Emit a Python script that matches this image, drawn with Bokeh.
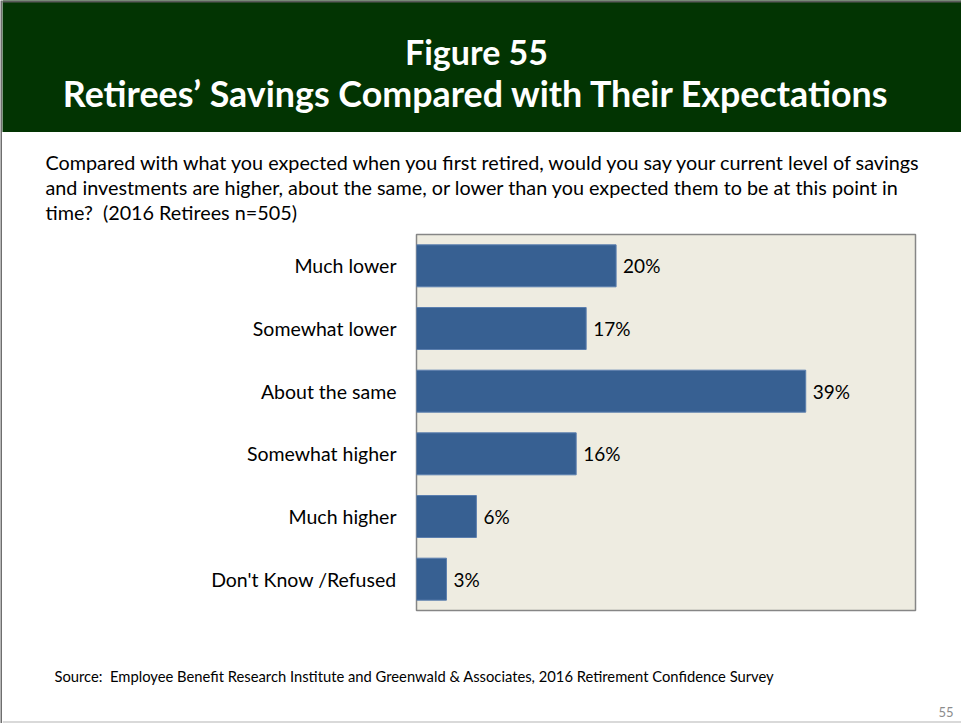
from bokeh.plotting import figure
from bokeh.layouts import column, row
from bokeh.models import FactorRange, Range1d, Label, ColumnDataSource, Span
from bokeh.embed import file_html
from bokeh.resources import INLINE
from bokeh.core.properties import value

categories = ["Much lower", "Somewhat lower", "About the same",
              "Somewhat higher", "Much higher", "Don't Know /Refused"]
values = [20, 17, 39, 16, 6, 3]
value_labels = ["20%", "17%", "39%", "16%", "6%", "3%"]

title_1 = "Figure 55"
title_2 = "Retirees\u2019 Savings Compared with Their Expectations"
question = [
    "Compared with what you expected when you first retired, would you say your current level of savings",
    "and investments are higher, about the same, or lower than you expected them to be at this point in",
    "time?\u00a0 (2016 Retirees n=505)",
]
source_note = "Source:\u00a0 Employee Benefit Research Institute and Greenwald & Associates, 2016 Retirement Confidence Survey"
page_no = "55"

FONT = "Lato"
W_TOTAL = 961
H_TOTAL = 723
STRIP = 2
W = W_TOTAL - STRIP


def unalign(f):
    try:
        f.frame_align = False
    except Exception:
        pass


def blank(height, width=W, x0=STRIP, bg="white"):
    f = figure(width=width, height=height, output_backend="svg", toolbar_location=None,
               x_range=Range1d(x0, x0 + width), y_range=Range1d(height, 0),
               min_border=0, min_border_left=0, min_border_right=0,
               min_border_top=0, min_border_bottom=0)
    f.axis.visible = False
    f.grid.visible = False
    f.outline_line_color = None
    f.background_fill_color = bg
    f.border_fill_color = bg
    unalign(f)
    return f


def add_text(f, x, y, txt, size, color="black", align="left", bold=False):
    f.add_layout(Label(x=x, y=y, text=txt, text_align=align,
                       text_baseline="middle", text_font=FONT,
                       text_font_style="bold" if bold else "normal",
                       text_font_size=size, text_color=color))


# ---- slide left border ----
strip = blank(H_TOTAL, width=STRIP, x0=0, bg="#6e6e6e")

# ---- header ----
header = blank(132, bg="#023402")
header.add_layout(Span(location=1, dimension="width", line_color="#5a5a5a", line_width=2))
add_text(header, 476, 51, title_1, "34px", color="white", align="center", bold=True)
add_text(header, 476, 93, title_2, "35.8px", color="white", align="center", bold=True)

# ---- question ----
qfig = blank(94)
for i, line in enumerate(question):
    add_text(qfig, 45, 29 + 25 * i, line, "19.8px")

# ---- chart ----
src = ColumnDataSource(dict(cat=categories, val=values, lbl=value_labels))
p = figure(width=W, height=392, output_backend="svg", toolbar_location=None,
           y_range=FactorRange(factors=categories[::-1]),
           x_range=Range1d(0, 50),
           min_border_left=416 - STRIP, min_border_right=46,
           min_border_top=8, min_border_bottom=8)
unalign(p)
p.background_fill_color = "#EEECE1"
p.border_fill_color = "white"
p.outline_line_color = "#868686"
p.outline_line_width = 1.5
p.xgrid.grid_line_color = None
p.ygrid.grid_line_color = None
p.xaxis.visible = False
p.yaxis.axis_line_color = None
p.yaxis.major_tick_line_color = None
p.yaxis.minor_tick_line_color = None
p.yaxis.major_label_standoff = 14
p.yaxis.major_label_text_font = FONT
p.yaxis.major_label_text_font_size = "19.5px"
p.yaxis.major_label_text_color = "black"

p.hbar(y="cat", left=0, right="val", height=0.67, source=src,
       fill_color="#376092", line_color="#5B7FAF", line_width=1)
p.text(x="val", y="cat", text="lbl", source=src, x_offset=7,
       text_baseline="middle", text_align="left",
       text_font=value(FONT), text_font_size="19px", text_color="black")

# ---- footer ----
foot = blank(105)
foot.add_layout(Span(location=103.5, dimension="width", line_color="#d9d9d9", line_width=2))
add_text(foot, 54, 57, source_note, "14.75px")
add_text(foot, 953, 93, page_no, "13px", color="#8c8c8c", align="right")

layout = row(strip, column(header, qfig, p, foot, spacing=0), spacing=0)
open("out.html", "w").write(file_html(layout, INLINE))
